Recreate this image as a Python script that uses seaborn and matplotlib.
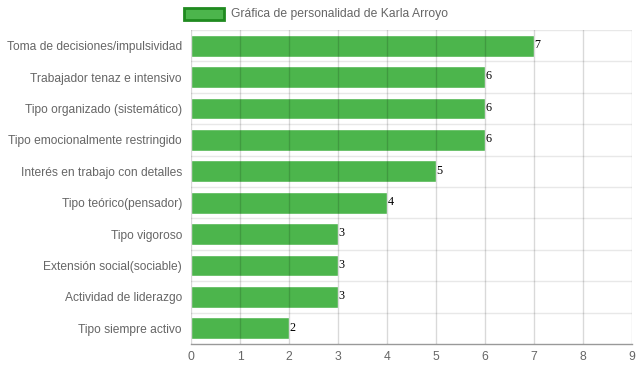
import matplotlib
matplotlib.use("Agg")
import matplotlib.pyplot as plt
import seaborn as sns
import pandas as pd
from matplotlib.patches import Rectangle

# datos
rasgos = [
    "Toma de decisiones/impulsividad",
    "Trabajador tenaz e intensivo",
    "Tipo organizado (sistemático)",
    "Tipo emocionalmente restringido",
    "Interés en trabajo con detalles",
    "Tipo teórico(pensador)",
    "Tipo vigoroso",
    "Extensión social(sociable)",
    "Actividad de liderazgo",
    "Tipo siempre activo",
]
puntajes = [7, 6, 6, 6, 5, 4, 3, 3, 3, 2]
serie = "Gráfica de personalidad de Karla Arroyo"

df = pd.DataFrame({"rasgo": rasgos, "puntaje": puntajes})

sns.set_style("white")
plt.rcParams["font.family"] = ["Liberation Sans", "DejaVu Sans"]

verde = "#4cb54c"
fig = plt.figure(figsize=(6.39, 3.72), dpi=100)
ax = fig.add_axes([191 / 639, 1 - 344 / 372, (632 - 191) / 639, (344 - 30) / 372])

sns.barplot(data=df, x="puntaje", y="rasgo", color=verde, saturation=1,
            width=0.7, ax=ax, zorder=1)

ax.set_xlim(0, 9)
ax.set_ylim(len(rasgos) - 0.5, -0.5)
ax.set_xticks(range(10))
ax.set_xlabel("")
ax.set_ylabel("")

# rejilla vertical encima de las barras
for x in range(10):
    ax.axvline(x, color=(0, 0, 0, 0.15), lw=1, zorder=3)
# rejilla horizontal entre categorías
for i in range(len(rasgos)):
    ax.axhline(i - 0.5, color="#e8e8e8", lw=1, zorder=0.5)
ax.set_yticks([i - 0.5 for i in range(len(rasgos))], minor=True)
ax.tick_params(axis="y", which="minor", length=10, color="#e8e8e8", width=1)
ax.tick_params(axis="y", which="major", length=0, pad=6.5, labelsize=8.65, labelcolor="#666666")
ax.tick_params(axis="x", length=0, pad=5, labelsize=8.7, labelcolor="#666666")

for s in ["top", "right", "left"]:
    ax.spines[s].set_visible(False)
ax.spines["bottom"].set_color("#999999")
ax.spines["bottom"].set_linewidth(1)

# etiquetas de valor
for i, v in enumerate(puntajes):
    ax.text(v + 0.01, i - 0.02, str(v), ha="left", va="center",
            fontsize=8.7, color="black", family="Liberation Serif", zorder=4)

# leyenda
fig.patches.append(Rectangle((184 / 639, 1 - 20 / 372), 40 / 639, 12 / 372,
                             transform=fig.transFigure, facecolor=verde,
                             edgecolor="#1f8a1f", lw=2))
fig.text(231 / 639, 1 - 14 / 372, serie, ha="left", va="center",
         fontsize=8.7, color="#666666")

fig.savefig("out.png", dpi=100)
